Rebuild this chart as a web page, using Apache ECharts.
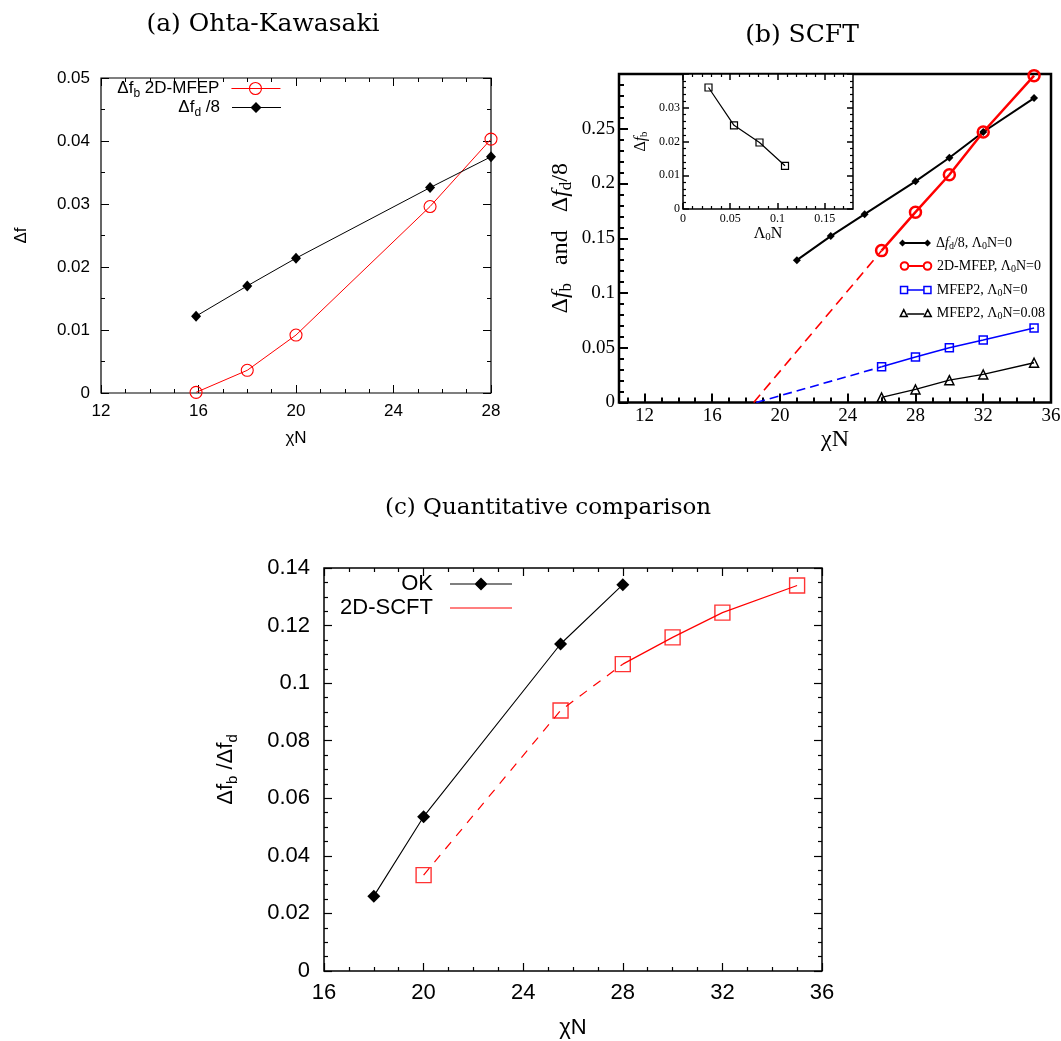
<!DOCTYPE html>
<html>
<head>
<meta charset="utf-8">
<script src="https://cdn.jsdelivr.net/npm/echarts@6/dist/echarts.min.js"></script>
<style>
  html, body { margin: 0; padding: 0; background: #fff; }
  #chart { width: 1061px; height: 1041px; }
</style>
</head>
<body>
<div id="chart"></div>
<script>
// ---------- (a) Ohta-Kawasaki ----------
const aChi  = [15.9, 18, 20, 25.5, 28];
const aFb   = [0.0001, 0.0036, 0.0092, 0.0296, 0.0403];   // Δf_b, 2D-MFEP
const aFd8  = [0.0122, 0.0170, 0.0214, 0.0326, 0.0375];   // Δf_d / 8

// ---------- (b) SCFT ----------
const bChiD   = [21, 23, 25, 28, 30, 32, 35];
const bFd8    = [0.130, 0.152, 0.172, 0.202, 0.2235, 0.247, 0.278];
const bChi    = [26, 28, 30, 32, 35];
const bMfep   = [0.1387, 0.1738, 0.208, 0.247, 0.2985];    // 2D-MFEP, Λ0N=0
const bMfep2  = [0.0326, 0.0415, 0.050, 0.057, 0.068];     // MFEP2, Λ0N=0
const bMfep2L = [0.0046, 0.0119, 0.0204, 0.0256, 0.0363];  // MFEP2, Λ0N=0.08
const bOnsetRed  = 18.45;   // extrapolated zero crossing, 2D-MFEP
const bOnsetBlue = 18.6;    // extrapolated zero crossing, MFEP2
const bXMajor = [12, 16, 20, 24, 28, 32, 36];
const bXMinor = [11, 13, 14, 15, 17, 18, 19, 21, 22, 23, 25, 26, 27, 29, 30, 31, 33, 34, 35];

// inset: Δf_b vs Λ0N at fixed χN
const inLam = [0.027, 0.054, 0.081, 0.108];
const inFb  = [0.0360, 0.0248, 0.0197, 0.0128];
const inXMajor = [0, 0.05, 0.1, 0.15];
const inXMinor = [0.01, 0.02, 0.03, 0.04, 0.06, 0.07, 0.08, 0.09, 0.11, 0.12, 0.13, 0.14, 0.16, 0.17];

// ---------- (c) Quantitative comparison ----------
const cChiOK   = [18, 20, 25.5, 28];
const cOK      = [0.0260, 0.0536, 0.1136, 0.1342];
const cChiSCFT = [20, 25.5, 28, 30, 32, 35];
const cSCFT    = [0.0333, 0.0905, 0.1066, 0.1159, 0.1245, 0.1339];
const cSolidFrom = 2;   // SCFT curve is dashed up to χN=28, solid beyond

// ---------- helpers ----------
const SANS  = '"Liberation Sans", Arial, Helvetica, sans-serif';
const SERIF = '"Liberation Serif", "Times New Roman", serif';
const TITLE = '"DejaVu Serif", serif';
const RED = '#ff0000', BLUE = '#0000ff', BLACK = '#000000';
const NONE = 'rgba(0,0,0,0)';

const zip = (xs, ys) => xs.map((x, i) => [x, ys[i]]);

const noLine  = { show: false, onZero: false };
const noSplit = { show: false };
function tick(len, w, extra) {
  return Object.assign({ show: true, inside: true, length: len, lineStyle: { color: BLACK, width: w } }, extra || {});
}
function minor(split, len, w) {
  return { show: true, splitNumber: split, length: len, lineStyle: { color: BLACK, width: w } };
}
function lab(font, size, margin, extra) {
  return Object.assign({ show: true, color: BLACK, fontFamily: font, fontSize: size, margin: margin }, extra || {});
}
function rich(font, size, lh, subSize, subLh) {
  return {
    n: { fontFamily: font, fontSize: size, color: BLACK, lineHeight: lh, verticalAlign: 'middle' },
    i: { fontFamily: font, fontSize: size, color: BLACK, lineHeight: lh, verticalAlign: 'middle', fontStyle: 'italic' },
    s: { fontFamily: font, fontSize: subSize, color: BLACK, lineHeight: subLh, verticalAlign: 'bottom' }
  };
}

const richA  = rich(SANS, 17, 22, 12, 10);
const richC  = rich(SANS, 22, 28, 15, 14);
const richB  = rich(SERIF, 24, 28, 17, 12);
const richBL = rich(SERIF, 14, 16, 10, 8);
const richIn = rich(SERIF, 16, 18, 11, 8);

const LEGEND_TEXT = {
  'a-fb':    '{n|Δf}{s|b}{n| 2D-MFEP}',
  'a-fd8':   '{n|Δf}{s|d}{n| /8}',
  'b-fd8':   '{n|Δ}{i|f}{s|d}{n|/8, Λ}{s|0}{n|N=0}',
  'b-mfep':  '{n|2D-MFEP, Λ}{s|0}{n|N=0}',
  'b-mfep2': '{n|MFEP2, Λ}{s|0}{n|N=0}',
  'b-mfep2L':'{n|MFEP2, Λ}{s|0}{n|N=0.08}',
  'c-ok':    '{n|OK}',
  'c-scft':  '{n|2D-SCFT}'
};

function legendRow(name, icon, itemStyle, pos, w, h, richSet, align) {
  return Object.assign({
    data: [{ name: name, icon: icon, itemStyle: itemStyle }],
    orient: 'horizontal', padding: 0, itemGap: 0,
    itemWidth: w, itemHeight: h, selectedMode: false, align: align,
    formatter: n => LEGEND_TEXT[n],
    textStyle: { rich: richSet, color: BLACK }
  }, pos);
}

// legend key shapes (drawn as icon paths)
const ICON_A_RED   = 'path://M0,0M56,15M7,7.5L56,7.5M37,7.5A6,6,0,1,1,25,7.5A6,6,0,1,1,37,7.5Z';
const ICON_A_BLACK = 'path://M0,0M56,15M7,7L56,7L56,8L7,8ZM31,2L36.5,7.5L31,13L25.5,7.5Z';
const ICON_B_DIA   = 'path://M0,0M32,10M0,5L3.5,1.5L7,5L3.5,8.5ZM25,5L28.5,1.5L32,5L28.5,8.5ZM3.5,4.1L28.5,4.1L28.5,5.9L3.5,5.9Z';
const ICON_B_CIR   = 'path://M0,0M32,10M8.3,5A3.8,3.8,0,1,1,0.7,5A3.8,3.8,0,1,1,8.3,5ZM31.3,5A3.8,3.8,0,1,1,23.7,5A3.8,3.8,0,1,1,31.3,5ZM8.3,5L23.7,5';
const ICON_B_SQ    = 'path://M0,0M32,10M0.8,1.4L7.8,1.4L7.8,8.4L0.8,8.4ZM24.2,1.4L31.2,1.4L31.2,8.4L24.2,8.4ZM7.8,5L24.2,5';
const ICON_B_TRI   = 'path://M0,0M32,10M0.5,8.6L4,1.6L7.5,8.6ZM24.5,8.6L28,1.6L31.5,8.6ZM7.5,6L24.5,6';
const ICON_C_OK    = 'path://M0,0M74,16M12,7.5L74,7.5L74,8.5L12,8.5ZM43,1.5L49.5,8L43,14.5L36.5,8Z';
const ICON_C_SCFT  = 'path://M0,0M74,16M12,7.4L74,7.4L74,8.6L12,8.6Z';

const chart = echarts.init(document.getElementById('chart'), null, { renderer: 'canvas' });

const option = {
  animation: false,
  backgroundColor: '#ffffff',
  title: [
    { text: '(a) Ohta-Kawasaki', left: 263, top: 12, textAlign: 'center', padding: 0,
      textStyle: { fontFamily: TITLE, fontSize: 25, fontWeight: 'normal', color: BLACK } },
    { text: '(b) SCFT', left: 802, top: 23, textAlign: 'center', padding: 0,
      textStyle: { fontFamily: TITLE, fontSize: 25, fontWeight: 'normal', color: BLACK } },
    { text: '(c) Quantitative comparison', left: 548, top: 497, textAlign: 'center', padding: 0,
      textStyle: { fontFamily: TITLE, fontSize: 23, fontWeight: 'normal', color: BLACK } }
  ],
  grid: [
    { left: 101, top: 78,  width: 390, height: 315,   show: true, borderColor: BLACK, borderWidth: 1.2, outerBoundsMode: 'none' },
    { left: 619, top: 74,  width: 432, height: 328.5, show: true, borderColor: BLACK, borderWidth: 2.5, outerBoundsMode: 'none' },
    { left: 683, top: 74,  width: 170, height: 135,   show: true, borderColor: BLACK, borderWidth: 1.5, backgroundColor: '#ffffff', outerBoundsMode: 'none' },
    { left: 324, top: 568, width: 498, height: 403,   show: true, borderColor: BLACK, borderWidth: 1.5, outerBoundsMode: 'none' }
  ],
  xAxis: [
    // 0: (a) bottom
    { type: 'value', gridIndex: 0, position: 'bottom', min: 12, max: 28, interval: 4,
      axisLine: noLine, splitLine: noSplit, axisTick: tick(8, 1), minorTick: minor(4, 4, 1),
      axisLabel: lab(SANS, 17, 10),
      name: 'χN', nameLocation: 'middle', nameGap: 37,
      nameTextStyle: { fontFamily: SANS, fontSize: 17, color: BLACK } },
    // 1: (a) top mirror
    { type: 'value', gridIndex: 0, position: 'top', min: 12, max: 28, interval: 4,
      axisLine: noLine, splitLine: noSplit, axisTick: tick(8, 1), minorTick: minor(4, 4, 1),
      axisLabel: { show: false } },
    // 2: (b) bottom, major ticks + labels
    { type: 'value', gridIndex: 1, position: 'bottom', min: 10.5, max: 36,
      axisLine: noLine, splitLine: noSplit,
      axisTick: tick(9, 2, { customValues: bXMajor }),
      axisLabel: lab(SERIF, 19, 4, { customValues: bXMajor }),
      name: 'χN', nameLocation: 'middle', nameGap: 25,
      nameTextStyle: { fontFamily: SERIF, fontSize: 24, color: BLACK } },
    // 3: (b) bottom, minor ticks
    { type: 'value', gridIndex: 1, position: 'bottom', min: 10.5, max: 36,
      axisLine: noLine, splitLine: noSplit,
      axisTick: tick(5, 2, { customValues: bXMinor }), axisLabel: { show: false } },
    // 4: inset bottom, major ticks + labels
    { type: 'value', gridIndex: 2, position: 'bottom', min: 0, max: 0.18,
      axisLine: noLine, splitLine: noSplit,
      axisTick: tick(6, 1.5, { customValues: inXMajor }),
      axisLabel: lab(SERIF, 12, 4, { customValues: inXMajor }),
      name: '{n|Λ}{s|0}{n|N}', nameLocation: 'middle', nameGap: 15,
      nameTextStyle: { rich: richIn } },
    // 5: inset bottom, minor ticks
    { type: 'value', gridIndex: 2, position: 'bottom', min: 0, max: 0.18,
      axisLine: noLine, splitLine: noSplit,
      axisTick: tick(3, 1.2, { customValues: inXMinor }), axisLabel: { show: false } },
    // 6: inset top, major ticks
    { type: 'value', gridIndex: 2, position: 'top', min: 0, max: 0.18,
      axisLine: noLine, splitLine: noSplit,
      axisTick: tick(6, 1.5, { customValues: inXMajor }), axisLabel: { show: false } },
    // 7: inset top, minor ticks
    { type: 'value', gridIndex: 2, position: 'top', min: 0, max: 0.18,
      axisLine: noLine, splitLine: noSplit,
      axisTick: tick(3, 1.2, { customValues: inXMinor }), axisLabel: { show: false } },
    // 8: (c) bottom
    { type: 'value', gridIndex: 3, position: 'bottom', min: 16, max: 36, interval: 4,
      axisLine: noLine, splitLine: noSplit, axisTick: tick(8, 1.2), minorTick: minor(4, 4, 1.2),
      axisLabel: lab(SANS, 22, 11),
      name: 'χN', nameLocation: 'middle', nameGap: 46,
      nameTextStyle: { fontFamily: SANS, fontSize: 22, color: BLACK } },
    // 9: (c) top mirror
    { type: 'value', gridIndex: 3, position: 'top', min: 16, max: 36, interval: 4,
      axisLine: noLine, splitLine: noSplit, axisTick: tick(8, 1.2), minorTick: minor(4, 4, 1.2),
      axisLabel: { show: false } }
  ],
  yAxis: [
    // 0: (a) left
    { type: 'value', gridIndex: 0, position: 'left', min: 0, max: 0.05, interval: 0.01,
      axisLine: noLine, splitLine: noSplit, axisTick: tick(8, 1), minorTick: minor(2, 4, 1),
      axisLabel: lab(SANS, 17, 11),
      name: 'Δf', nameLocation: 'middle', nameGap: 71,
      nameTextStyle: { fontFamily: SANS, fontSize: 17, color: BLACK } },
    // 1: (a) right mirror
    { type: 'value', gridIndex: 0, position: 'right', min: 0, max: 0.05, interval: 0.01,
      axisLine: noLine, splitLine: noSplit, axisTick: tick(8, 1), minorTick: minor(2, 4, 1),
      axisLabel: { show: false } },
    // 2: (b) left
    { type: 'value', gridIndex: 1, position: 'left', min: 0, max: 0.3, interval: 0.05,
      axisLine: noLine, splitLine: noSplit, axisTick: tick(9, 2), minorTick: minor(5, 5, 2),
      axisLabel: lab(SERIF, 19, 4, { showMaxLabel: false }),
      name: '{n|Δ}{i|f}{s|b}{n|   and   Δ}{i|f}{s|d}{n|/8}', nameLocation: 'middle', nameGap: 44,
      nameTextStyle: { rich: richB } },
    // 3: inset left
    { type: 'value', gridIndex: 2, position: 'left', min: 0, max: 0.04, interval: 0.01,
      axisLine: noLine, splitLine: noSplit, axisTick: tick(6, 1.5), minorTick: minor(5, 3, 1.2),
      axisLabel: lab(SERIF, 12, 3, { showMaxLabel: false }),
      name: '{n|Δ}{i|f}{s|b}', nameLocation: 'middle', nameGap: 33,
      nameTextStyle: { rich: richIn } },
    // 4: inset right mirror
    { type: 'value', gridIndex: 2, position: 'right', min: 0, max: 0.04, interval: 0.01,
      axisLine: noLine, splitLine: noSplit, axisTick: tick(6, 1.5), minorTick: minor(5, 3, 1.2),
      axisLabel: { show: false } },
    // 5: (c) left
    { type: 'value', gridIndex: 3, position: 'left', min: 0, max: 0.14, interval: 0.02,
      axisLine: noLine, splitLine: noSplit, axisTick: tick(8, 1.2), minorTick: minor(4, 4, 1.2),
      axisLabel: lab(SANS, 22, 14),
      name: '{n|Δf}{s|b}{n| /Δf}{s|d}', nameLocation: 'middle', nameGap: 84,
      nameTextStyle: { rich: richC } },
    // 6: (c) right mirror
    { type: 'value', gridIndex: 3, position: 'right', min: 0, max: 0.14, interval: 0.02,
      axisLine: noLine, splitLine: noSplit, axisTick: tick(8, 1.2), minorTick: minor(4, 4, 1.2),
      axisLabel: { show: false } }
  ],
  legend: [
    // (a)
    legendRow('a-fb',  ICON_A_RED,   { color: NONE, borderColor: RED, borderWidth: 1.1 }, { right: 780, top: 80 }, 56, 15, richA, 'right'),
    legendRow('a-fd8', ICON_A_BLACK, { color: BLACK, borderWidth: 0 }, { right: 780, top: 99 }, 56, 15, richA, 'right'),
    // (b)
    legendRow('b-fd8',    ICON_B_DIA, { color: BLACK, borderWidth: 0 }, { left: 899, top: 236 }, 32, 10, richBL, 'left'),
    legendRow('b-mfep',   ICON_B_CIR, { color: NONE, borderColor: RED, borderWidth: 2 }, { left: 899, top: 259 }, 32, 10, richBL, 'left'),
    legendRow('b-mfep2',  ICON_B_SQ,  { color: NONE, borderColor: BLUE, borderWidth: 1.5 }, { left: 899, top: 283 }, 32, 10, richBL, 'left'),
    legendRow('b-mfep2L', ICON_B_TRI, { color: NONE, borderColor: BLACK, borderWidth: 1.5 }, { left: 899, top: 306 }, 32, 10, richBL, 'left'),
    // (c)
    legendRow('c-ok',   ICON_C_OK,   { color: BLACK, borderWidth: 0 }, { right: 549, top: 573 }, 74, 16, richC, 'right'),
    legendRow('c-scft', ICON_C_SCFT, { color: RED, borderWidth: 0 },   { right: 549, top: 597 }, 74, 16, richC, 'right')
  ],
  series: [
    // ----- (a) -----
    { name: 'a-fb', type: 'line', xAxisIndex: 0, yAxisIndex: 0, data: zip(aChi, aFb),
      symbol: 'circle', symbolSize: 12, showSymbol: true,
      itemStyle: { color: NONE, borderColor: RED, borderWidth: 1.1 },
      lineStyle: { color: RED, width: 1 } },
    { name: 'a-fd8', type: 'line', xAxisIndex: 0, yAxisIndex: 0, data: zip(aChi, aFd8),
      symbol: 'diamond', symbolSize: [10, 11], showSymbol: true,
      itemStyle: { color: BLACK },
      lineStyle: { color: BLACK, width: 1 } },

    // ----- (b) main -----
    { name: 'b-mfep-extrap', type: 'line', xAxisIndex: 2, yAxisIndex: 2,
      data: [[bOnsetRed, 0], [bChi[0], bMfep[0]]], symbol: 'none',
      lineStyle: { color: RED, width: 1.6, type: [10, 6] } },
    { name: 'b-mfep2-extrap', type: 'line', xAxisIndex: 2, yAxisIndex: 2,
      data: [[bOnsetBlue, 0], [bChi[0], bMfep2[0]]], symbol: 'none',
      lineStyle: { color: BLUE, width: 1.6, type: [9, 5] } },
    { name: 'b-fd8', type: 'line', xAxisIndex: 2, yAxisIndex: 2, data: zip(bChiD, bFd8),
      symbol: 'diamond', symbolSize: 8, showSymbol: true,
      itemStyle: { color: BLACK }, lineStyle: { color: BLACK, width: 2 } },
    { name: 'b-mfep', type: 'line', xAxisIndex: 2, yAxisIndex: 2, data: zip(bChi, bMfep),
      symbol: 'circle', symbolSize: 11, showSymbol: true,
      itemStyle: { color: NONE, borderColor: RED, borderWidth: 2.5 },
      lineStyle: { color: RED, width: 2.5 } },
    { name: 'b-mfep2', type: 'line', xAxisIndex: 2, yAxisIndex: 2, data: zip(bChi, bMfep2),
      symbol: 'rect', symbolSize: 8, showSymbol: true,
      itemStyle: { color: NONE, borderColor: BLUE, borderWidth: 1.5 },
      lineStyle: { color: BLUE, width: 1.5 } },
    { name: 'b-mfep2L', type: 'line', xAxisIndex: 2, yAxisIndex: 2, data: zip(bChi, bMfep2L),
      symbol: 'triangle', symbolSize: 9, showSymbol: true,
      itemStyle: { color: NONE, borderColor: BLACK, borderWidth: 1.5 },
      lineStyle: { color: BLACK, width: 1.3 } },

    // ----- (b) inset -----
    { name: 'inset', type: 'line', xAxisIndex: 4, yAxisIndex: 3, data: zip(inLam, inFb),
      symbol: 'rect', symbolSize: 7, showSymbol: true,
      itemStyle: { color: NONE, borderColor: BLACK, borderWidth: 1.2 },
      lineStyle: { color: BLACK, width: 1.2 } },

    // ----- (c) -----
    { name: 'c-ok', type: 'line', xAxisIndex: 8, yAxisIndex: 5, data: zip(cChiOK, cOK),
      symbol: 'diamond', symbolSize: 13, showSymbol: true,
      itemStyle: { color: BLACK }, lineStyle: { color: BLACK, width: 1.1 } },
    { name: 'c-scft-dashed', type: 'line', xAxisIndex: 8, yAxisIndex: 5,
      data: zip(cChiSCFT, cSCFT).slice(0, cSolidFrom + 1), symbol: 'none',
      lineStyle: { color: RED, width: 1.2, type: [9, 8] } },
    { name: 'c-scft', type: 'line', xAxisIndex: 8, yAxisIndex: 5,
      data: zip(cChiSCFT, cSCFT).slice(cSolidFrom), symbol: 'none',
      itemStyle: { color: RED }, lineStyle: { color: RED, width: 1.2 } },
    { name: 'c-scft-points', type: 'scatter', xAxisIndex: 8, yAxisIndex: 5,
      data: zip(cChiSCFT, cSCFT), symbol: 'rect', symbolSize: 15,
      itemStyle: { color: NONE, borderColor: RED, borderWidth: 1.4 } }
  ]
};

chart.setOption(option);
</script>
</body>
</html>
